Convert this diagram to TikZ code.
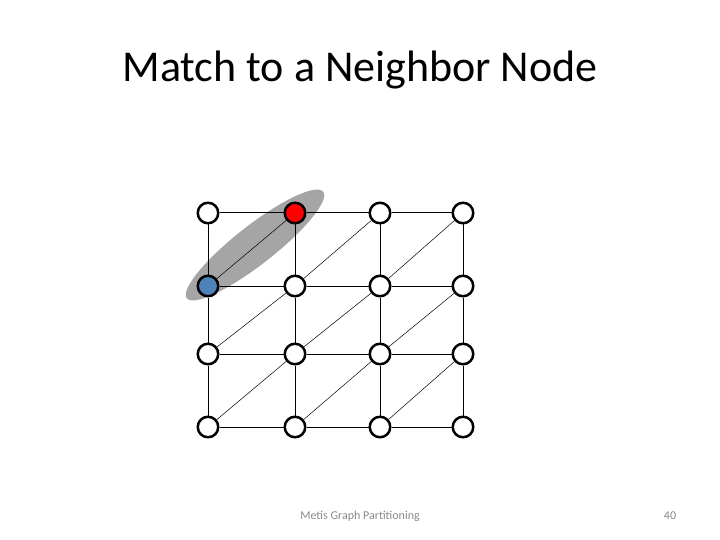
\documentclass[tikz,border=0pt]{standalone}
\usepackage{fontspec}
\setmainfont{Carlito}
\definecolor{nodeblue}{RGB}{79,129,189}
\definecolor{matchgray}{RGB}{165,165,165}
\definecolor{footgray}{RGB}{137,137,137}
\usetikzlibrary{shapes.geometric, backgrounds}

\begin{document}
\begin{tikzpicture}[
      x=1pt, y=-1pt,
      vtx/.style={draw, circle, line width=2.5pt, fill=white, minimum size=20.5pt, inner sep=0pt},
      gridline/.style={line width=1pt},
      diag/.style={line width=0.5pt},
      matchfill/.style={ellipse, fill=matchgray, minimum width=173pt, minimum height=39pt, inner sep=0pt}
    ]
      \useasboundingbox (0,0) rectangle (720,540);

      % Title
      \node[anchor=base, font=\fontsize{44}{50}\selectfont] (title) at (360,82) {Match to a Neighbor Node};

      % Row 1
      \node[vtx] (v11) at (208,213) {};
      \node[vtx, fill=red] (v12) at (295,213) {};
      \node[vtx] (v13) at (380,213) {};
      \node[vtx] (v14) at (463,213) {};

      % Row 2
      \node[vtx, fill=nodeblue] (v21) at (208,286) {};
      \node[vtx] (v22) at (295,286) {};
      \node[vtx] (v23) at (380,286) {};
      \node[vtx] (v24) at (463,286) {};

      % Row 3
      \node[vtx] (v31) at (208,354) {};
      \node[vtx] (v32) at (295,354) {};
      \node[vtx] (v33) at (380,354) {};
      \node[vtx] (v34) at (463,354) {};

      % Row 4
      \node[vtx] (v41) at (208,427) {};
      \node[vtx] (v42) at (295,427) {};
      \node[vtx] (v43) at (380,427) {};
      \node[vtx] (v44) at (463,427) {};

      \begin{scope}[on background layer]
        % Matched pair
        \node[matchfill, rotate=38] (match) at (255,245) {};

        % Horizontal edges
        \draw[gridline] (v11) -- (v12) -- (v13) -- (v14);
        \draw[gridline] (v21) -- (v22) -- (v23) -- (v24);
        \draw[gridline] (v31) -- (v32) -- (v33) -- (v34);
        \draw[gridline] (v41) -- (v42) -- (v43) -- (v44);

        % Vertical edges
        \draw[gridline] (v11) -- (v21) -- (v31) -- (v41);
        \draw[gridline] (v12) -- (v22) -- (v32) -- (v42);
        \draw[gridline] (v13) -- (v23) -- (v33) -- (v43);
        \draw[gridline] (v14) -- (v24) -- (v34) -- (v44);

        % Diagonal edges
        \draw[diag] (v21) -- (v12);
        \draw[diag] (v22) -- (v13);
        \draw[diag] (v23) -- (v14);
        \draw[diag] (v31) -- (v22);
        \draw[diag] (v32) -- (v23);
        \draw[diag] (v33) -- (v24);
        \draw[diag] (v41) -- (v32);
        \draw[diag] (v42) -- (v33);
        \draw[diag] (v43) -- (v34);
      \end{scope}

      % Footer
      \node[anchor=base, font=\fontsize{12}{14}\selectfont, text=footgray] (footer) at (360,519) {Metis Graph Partitioning};
      \node[anchor=base, font=\fontsize{12}{14}\selectfont, text=footgray] (page) at (670,519) {40};
    \end{tikzpicture}
\end{document}
